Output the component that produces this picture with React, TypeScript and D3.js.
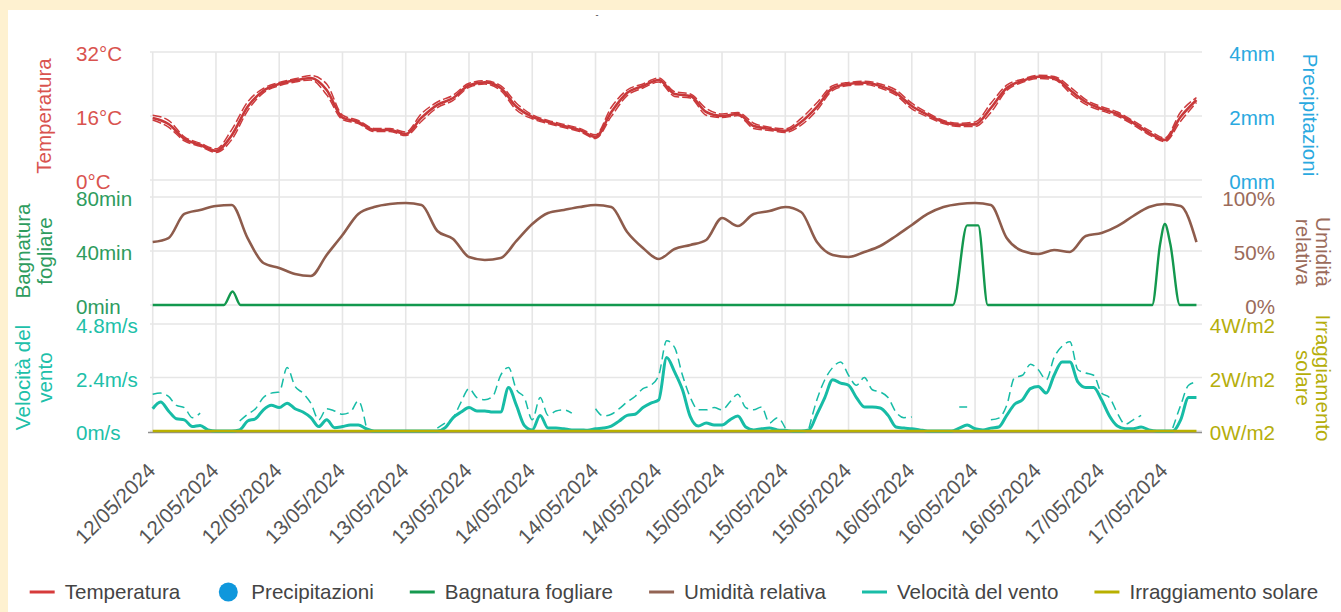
import { useEffect, useRef } from "react";
import * as d3 from "d3";

// sample times in hours from the first tick (12/05 00:00)
const hours2 = d3.range(0, 133, 2);
const hours1 = d3.range(0, 133, 1);

const tickHours = d3.range(0, 129, 8);
const tickLabels = [
  "12/05/2024", "12/05/2024", "12/05/2024",
  "13/05/2024", "13/05/2024", "13/05/2024",
  "14/05/2024", "14/05/2024", "14/05/2024",
  "15/05/2024", "15/05/2024", "15/05/2024",
  "16/05/2024", "16/05/2024", "16/05/2024",
  "17/05/2024", "17/05/2024",
];

// Temperatura (°C), every 2 h
const tempAvg = [
  15.5, 14, 10.3, 8.8, 7.3, 11.2, 18.3, 22.3, 24, 24.9,
  25.5, 22.5, 15.6, 14.5, 12.5, 12.5, 11.5, 15.6, 18.8, 20.5,
  23.7, 24.4, 23, 18.3, 15.8, 14.5, 13.5, 12.5, 10.8, 17,
  21.8, 23.5, 25, 21.5, 21, 17, 16, 16.5, 13.5, 12.8,
  12.3, 14.5, 18.3, 23, 24, 24.3, 23.5, 21.8, 18.5, 16.3,
  14.5, 13.8, 13.9, 18, 23, 24.8, 25.8, 25.5, 22.5, 19.5,
  17.8, 16.5, 14.3, 11.8, 10, 15.8, 20,
];
const tempMax = [
  16.2, 14.9, 10.8, 9.2, 7.8, 12.6, 19.5, 22.9, 24.4, 25.3,
  26.1, 24.0, 16.2, 14.9, 12.9, 12.9, 12.0, 16.6, 19.5, 21.2,
  24.2, 24.8, 23.6, 19.2, 16.3, 14.9, 13.9, 12.9, 11.3, 18.2,
  22.5, 24.0, 25.5, 22.1, 21.5, 17.9, 16.5, 16.9, 14.2, 13.2,
  12.8, 15.4, 19.3, 23.6, 24.4, 24.7, 24.0, 22.5, 19.2, 16.8,
  14.9, 14.2, 14.5, 19.2, 23.7, 25.2, 26.2, 25.9, 23.3, 20.1,
  18.3, 17.0, 14.8, 12.4, 10.5, 17.0, 20.6,
];
const tempMin = [
  15.0, 13.2, 9.8, 8.4, 6.9, 10.1, 17.3, 21.8, 23.6, 24.5,
  25.0, 21.3, 15.1, 14.1, 12.1, 12.1, 11.1, 14.7, 18.1, 19.9,
  23.2, 24.0, 22.4, 17.5, 15.3, 14.1, 13.1, 12.1, 10.4, 15.9,
  21.1, 23.0, 24.5, 20.9, 20.5, 16.2, 15.6, 16.1, 12.9, 12.4,
  11.9, 13.7, 17.4, 22.4, 23.6, 23.9, 23.0, 21.2, 17.8, 15.8,
  14.1, 13.4, 13.4, 16.9, 22.4, 24.4, 25.4, 25.1, 21.8, 18.9,
  17.3, 16.0, 13.8, 11.3, 9.6, 14.7, 19.4,
];

// Umidità relativa (%), every 2 h
const humidity = [
  58.3, 62, 84.3, 88, 91.7, 92.6, 62, 38.9, 34.3, 28.7,
  26.9, 46.3, 64.8, 84.3, 90.7, 93.5, 94.4, 92.6, 68.5, 61.1,
  44.4, 41.7, 43.5, 59.3, 75, 85.2, 88, 90.7, 92.6, 90.7,
  67.6, 52.8, 42.6, 51.9, 55.6, 60.2, 80.6, 73.1, 84.3, 87,
  90.7, 86.1, 58.3, 46.3, 44.4, 49.1, 54.6, 63.9, 74.1, 84.3,
  90.7, 93.5, 94.4, 92.6, 62, 50, 47.2, 50.9, 49.1, 63.9,
  66.7, 73.1, 82.4, 90.7, 93.5, 91.7, 58.3,
];

// Irraggiamento solare (W/m2), every 2 h
const solar = [
  0, 0, 0, 0, 0, 0, 0, 0, 0, 0, 0, 0, 0, 0, 0, 0, 0, 0, 0, 0,
  0, 0, 0, 0, 0, 0, 0, 0, 0, 0, 0, 0, 0, 0, 0, 0, 0, 0, 0, 0,
  0, 0, 0, 0, 0, 0, 0, 0, 0, 0, 0, 0, 0, 0, 0, 0, 0, 0, 0, 0,
  0, 0, 0, 0, 0, 0, 0,
];

// Bagnatura fogliare (min)
const leafHours = [0, 9, 10.1, 11.1, 101.2, 103, 104.4, 105.6, 126.4, 127.4, 128, 128.7, 129.9, 132];
const leafMinutes = [0, 0, 10, 0, 0, 59, 59, 0, 0, 45, 60, 45, 0, 0];

// Velocità del vento (m/s), hourly: mean and gust
const windAvg = [
  1.0, 1.3, 0.9, 0.55, 0.5, 0.2, 0.25, 0.05, 0, 0,
  0, 0.05, 0.45, 0.55, 0.95, 1.15, 1.05, 1.25, 1.0, 0.85,
  0.6, 0.2, 0.5, 0.15, 0.2, 0.27, 0.27, 0.1, 0, 0,
  0, 0, 0, 0, 0, 0, 0, 0.15, 0.6, 0.85,
  1.05, 0.9, 0.9, 0.85, 0.85, 1.95, 1.15, 0.25, 0.05, 0.7,
  0.13, 0.13, 0.1, 0.05, 0.05, 0.03, 0.1, 0.13, 0.22, 0.45,
  0.7, 0.75, 1.05, 1.25, 1.4, 3.3, 2.65, 1.85, 0.63, 0.22,
  0.36, 0.27, 0.27, 0.5, 0.67, 0.18, 0.05, 0.1, 0.13, 0.05,
  0.03, 0, 0, 0.05, 0.75, 1.5, 2.3, 2.15, 2.05, 1.5,
  1.08, 1.08, 1.03, 0.7, 0.18, 0.13, 0.1, 0.05, 0, 0,
  0, 0, 0.13, 0.27, 0.1, 0.05, 0.13, 0.18, 0.7, 1.2,
  1.4, 1.9, 2.0, 1.7, 2.5, 3.1, 3.1, 2.2, 1.95, 1.95,
  1.4, 0.67, 0.22, 0.1, 0.1, 0.18, 0.05, 0, 0, 0,
  0.5, 1.5, 1.5,
];
const windGust = [
  1.65, 1.7, 1.55, 1.15, 1.05, 0.6, 0.8, null, null, null,
  null, 0.45, 0.75, 1.0, 1.5, 1.7, 1.75, 2.85, 2.0, 1.7,
  1.25, 0.5, 1.0, 0.9, 0.75, 0.85, 1.35, 0.18, null, null,
  null, null, null, null, null, null, 0.13, 0.36, 0.6, 1.3,
  1.9, 1.5, 1.4, 1.55, 2.5, 2.85, 1.85, 1.5, 0.5, 1.5,
  0.7, 0.9, 0.95, 0.8, null, null, 1.0, 0.67, 0.75, 1.0,
  1.3, 1.55, 1.9, 2.05, 2.5, 4.05, 3.75, 2.5, 1.5, 0.95,
  0.95, 1.05, 0.95, 1.3, 1.65, 1.05, 0.95, 1.08, 0.36, 0.6,
  0.13, null, null, 0.13, 1.4, 2.3, 2.85, 3.1, 2.5, 2.05,
  2.4, 1.85, 1.75, 1.5, 0.85, 0.6, 0.63, null, null, null,
  null, null, 1.08, 1.08, null, null, 0.5, 0.58, 1.15, 2.4,
  2.5, 3.0, 2.75, 2.3, 3.3, 3.8, 4.0, 2.75, 2.6, 2.5,
  1.7, 1.5, 0.8, 0.3, 0.5, 0.7, null, null, null, 0.13,
  1.15, 2.05, 2.2,
];

const legendItems = [
  { name: "Temperatura", color: "#d63b3b", kind: "line" },
  { name: "Precipitazioni", color: "#0f97dc", kind: "dot" },
  { name: "Bagnatura fogliare", color: "#15994f", kind: "line" },
  { name: "Umidità relativa", color: "#936454", kind: "line" },
  { name: "Velocità del vento", color: "#19bda7", kind: "line" },
  { name: "Irraggiamento solare", color: "#b8b000", kind: "line" },
];

const FONT = "'Liberation Sans', Arial, sans-serif";
const FS = 20.6;

export default function App() {
  const ref = useRef<SVGSVGElement>(null);

  useEffect(() => {
    const width = 1341;
    const height = 612;
    const svg = d3.select(ref.current);
    svg.selectAll("*").remove();
    svg.attr("font-family", FONT);

    svg.append("rect").attr("width", width).attr("height", height).attr("fill", "#fef1d0");
    svg.append("rect").attr("x", 8).attr("y", 10).attr("width", width - 8).attr("height", height - 10).attr("fill", "#fff");
    svg.append("text").attr("x", 597).attr("y", 18).attr("font-size", 9).attr("fill", "#333").attr("text-anchor", "middle").text("-");

    const x = d3.scaleLinear().domain([0, 132.7]).range([152.7, 1202]);

    const yTemp = d3.scaleLinear().domain([0, 32]).range([180, 52]);
    const yRain = d3.scaleLinear().domain([0, 4]).range([180, 52]);
    const yLeaf = d3.scaleLinear().domain([0, 80]).range([305, 197]);
    const yHum = d3.scaleLinear().domain([0, 100]).range([305, 197]);
    const yWind = d3.scaleLinear().domain([0, 4.8]).range([431, 324]);
    const ySun = d3.scaleLinear().domain([0, 4]).range([431, 324]);

    const grid = svg.append("g").attr("stroke", "#e6e6e6").attr("stroke-width", 1.6);
    [
      { s: yTemp, t: [0, 16, 32] },
      { s: yLeaf, t: [0, 40, 80] },
      { s: yWind, t: [0, 2.4, 4.8] },
    ].forEach(({ s, t }) => {
      t.forEach((v) => {
        grid.append("line").attr("x1", 150).attr("x2", 1202).attr("y1", s(v)).attr("y2", s(v));
      });
    });
    tickHours.forEach((h) => {
      grid.append("line").attr("x1", x(h)).attr("x2", x(h)).attr("y1", 52).attr("y2", 431);
    });

    svg.append("line").attr("x1", 148).attr("x2", 1202).attr("y1", 432.5).attr("y2", 432.5)
      .attr("stroke", "#8f8f8f").attr("stroke-width", 1.5);

    const drawLine = (
      xs: number[], ys: (number | null)[], y: d3.ScaleLinear<number, number>,
      color: string, w: number, dash?: string,
    ) => {
      const pts = xs.map((h, i) => [h, ys[i]] as [number, number | null]);
      const line = d3.line<[number, number | null]>()
        .defined((d) => d[1] !== null && d[1] !== undefined)
        .x((d) => x(d[0]))
        .y((d) => y(d[1] as number))
        .curve(d3.curveMonotoneX);
      svg.append("path").attr("d", line(pts)).attr("fill", "none").attr("stroke", color)
        .attr("stroke-width", w).attr("stroke-linejoin", "round")
        .attr("stroke-dasharray", dash ?? null);
    };

    drawLine(hours2, tempMax, yTemp, "#cc3a3c", 1.5, "9,3");
    drawLine(hours2, tempMin, yTemp, "#cc3a3c", 1.5, "9,3");
    drawLine(hours2, tempAvg, yTemp, "#c8383a", 2.6);
    drawLine(hours2, humidity, yHum, "#8e5c4c", 2.6);
    drawLine(leafHours, leafMinutes, yLeaf, "#13984e", 2.4);
    drawLine(hours1, windGust, yWind, "#17bca6", 1.5, "9,5");
    drawLine(hours1, windAvg, yWind, "#17bca6", 3);
    drawLine(hours2, solar, ySun, "#b9b000", 2.6);

    // y axes
    const leftAxis = (s: d3.ScaleLinear<number, number>, t: number[], fmt: (v: number) => string, color: string) => {
      t.forEach((v) => {
        svg.append("text").attr("x", 76).attr("y", s(v) + 9).attr("font-size", FS).attr("fill", color).text(fmt(v));
      });
    };
    const rightAxis = (s: d3.ScaleLinear<number, number>, t: number[], fmt: (v: number) => string, color: string) => {
      t.forEach((v) => {
        svg.append("text").attr("x", 1275).attr("y", s(v) + 9).attr("font-size", FS).attr("text-anchor", "end")
          .attr("fill", color).text(fmt(v));
      });
    };
    leftAxis(yTemp, [0, 16, 32], (v) => `${v}°C`, "#d9534f");
    leftAxis(yLeaf, [0, 40, 80], (v) => `${v}min`, "#2e9c5e");
    leftAxis(yWind, [0, 2.4, 4.8], (v) => `${v}m/s`, "#20bfa9");
    rightAxis(yRain, [0, 2, 4], (v) => `${v}mm`, "#2aa9e0");
    rightAxis(yHum, [0, 50, 100], (v) => `${v}%`, "#9b6b5b");
    rightAxis(ySun, [0, 2, 4], (v) => `${v}W/m2`, "#b5ae0b");

    const title = (lines: string[], bx: number[], cy: number, rot: number, color: string) => {
      lines.forEach((l, i) => {
        svg.append("text").attr("transform", `translate(${bx[i]},${cy}) rotate(${rot})`)
          .attr("text-anchor", "middle").attr("font-size", FS).attr("fill", color).text(l);
      });
    };
    title(["Temperatura"], [51], 116, -90, "#d9534f");
    title(["Bagnatura", "fogliare"], [29.5, 51.5], 251, -90, "#2e9c5e");
    title(["Velocità del", "vento"], [29.5, 51.5], 377.5, -90, "#20bfa9");
    title(["Precipitazioni"], [1302.5], 115, 90, "#2aa9e0");
    title(["Umidità", "relativa"], [1316, 1295.5], 252, 90, "#9b6b5b");
    title(["Irraggiamento", "solare"], [1316, 1295.5], 378, 90, "#b5ae0b");

    // x axis labels
    tickHours.forEach((h, i) => {
      svg.append("text").attr("transform", `translate(${x(h) + 4},${472}) rotate(-45)`)
        .attr("text-anchor", "end").attr("font-size", FS).attr("fill", "#555").text(tickLabels[i]);
    });

    // legend
    const lg = svg.append("g");
    const items = legendItems.map((it) => {
      const g = lg.append("g");
      const t = g.append("text").attr("x", 35).attr("y", 599).attr("font-size", FS).attr("fill", "#444").text(it.name);
      if (it.kind === "dot") {
        g.append("circle").attr("cx", 12).attr("cy", 592).attr("r", 9.5).attr("fill", it.color);
      } else {
        g.append("line").attr("x1", 0).attr("x2", 25).attr("y1", 592).attr("y2", 592)
          .attr("stroke", it.color).attr("stroke-width", 3);
      }
      const w = 35 + (t.node() as SVGTextElement).getComputedTextLength();
      return { g, w };
    });
    const gap = 36;
    const total = d3.sum(items, (d) => d.w) + gap * (items.length - 1);
    let cx = 674 - total / 2;
    items.forEach(({ g, w }) => {
      g.attr("transform", `translate(${cx},0)`);
      cx += w + gap;
    });
  }, []);

  return (
    <div style={{ position: "absolute", left: 0, top: 0 }}>
      <svg ref={ref} width={1341} height={612} style={{ display: "block" }} />
    </div>
  );
}
